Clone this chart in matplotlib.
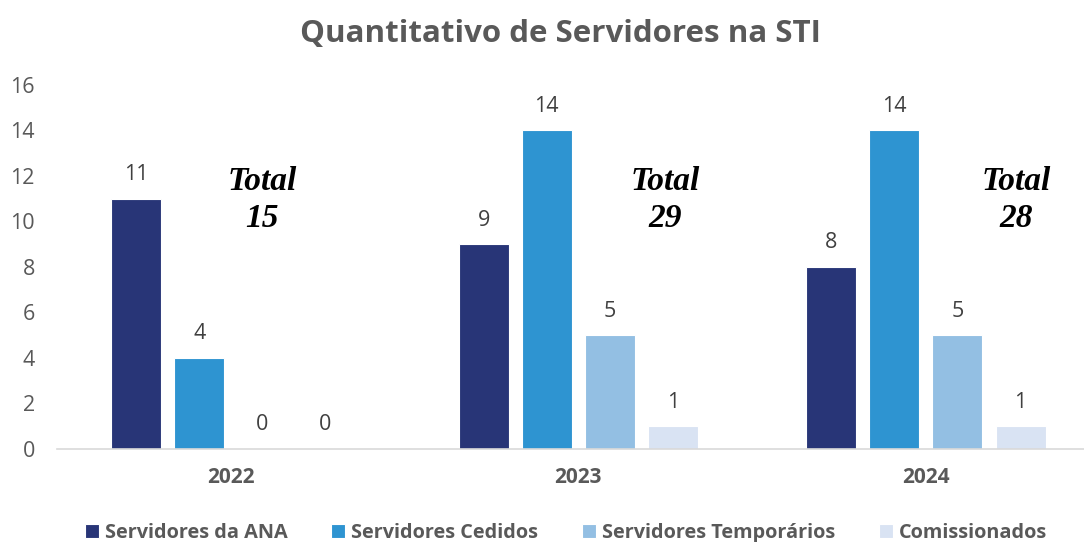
import numpy as np
import matplotlib
matplotlib.use("Agg")
import matplotlib.pyplot as plt

# dados do gráfico
anos = ["2022", "2023", "2024"]
servidores_ana = [11, 9, 8]
servidores_cedidos = [4, 14, 14]
servidores_temporarios = [0, 5, 5]
comissionados = [0, 1, 1]
totais = [15, 29, 28]

series = [
    ("Servidores da ANA", servidores_ana, "#283577"),
    ("Servidores Cedidos", servidores_cedidos, "#2E94D1"),
    ("Servidores Temporários", servidores_temporarios, "#93BFE3"),
    ("Comissionados", comissionados, "#D9E3F3"),
]

plt.rcParams["font.family"] = ["Open Sans", "DejaVu Sans"]
cinza = "#595959"

fig = plt.figure(figsize=(10.84, 5.42), dpi=100)
ax = fig.add_axes([0.0526, 0.1716, 0.9474, 0.6716])

x = np.arange(len(anos))
largura = 0.144
passo = 0.1816

for i, (nome, valores, cor) in enumerate(series):
    pos = x + (i - 1.5) * passo
    barras = ax.bar(pos, valores, largura, color=cor, label=nome,
                    edgecolor="white", linewidth=0.8, zorder=2)
    for b, v in zip(barras, valores):
        ax.text(b.get_x() + b.get_width() / 2, v + 0.6, str(v),
                ha="center", va="bottom", fontsize=15.5, color="#404040")

# caixas de total
desloc_total = [0.09, 0.25, 0.26]
for xi, d, t in zip(x, desloc_total, totais):
    ax.text(xi + d, 10.95, f"Total\n{t}", ha="center", va="center",
            fontsize=24, fontweight="bold", fontstyle="italic",
            family="Liberation Serif", linespacing=1.25, color="black")

ax.set_xlim(-0.5, 2.455)
ax.set_ylim(0, 16)
ax.set_yticks(range(0, 17, 2))
ax.set_xticks(x)
ax.set_xticklabels(anos, fontweight="bold")
ax.tick_params(axis="y", length=0, labelsize=15.5, labelcolor=cinza, pad=16)
ax.tick_params(axis="x", length=0, labelsize=15, labelcolor=cinza, pad=13)
for s in ["top", "right", "left"]:
    ax.spines[s].set_visible(False)
ax.spines["bottom"].set_color("#D9D9D9")
ax.spines["bottom"].set_linewidth(1.2)

fig.suptitle("Quantitativo de Servidores na STI", x=0.517, y=0.965,
             fontsize=22.5, fontweight="bold", color=cinza)

leg = fig.legend(loc="lower center", bbox_to_anchor=(0.522, -0.035), ncol=4,
                 frameon=False, prop={"weight": "bold", "size": 14.3},
                 handlelength=0.7, handleheight=0.7,
                 handletextpad=0.3, columnspacing=2.2)
for t in leg.get_texts():
    t.set_color(cinza)

fig.savefig("out.png", dpi=100)
